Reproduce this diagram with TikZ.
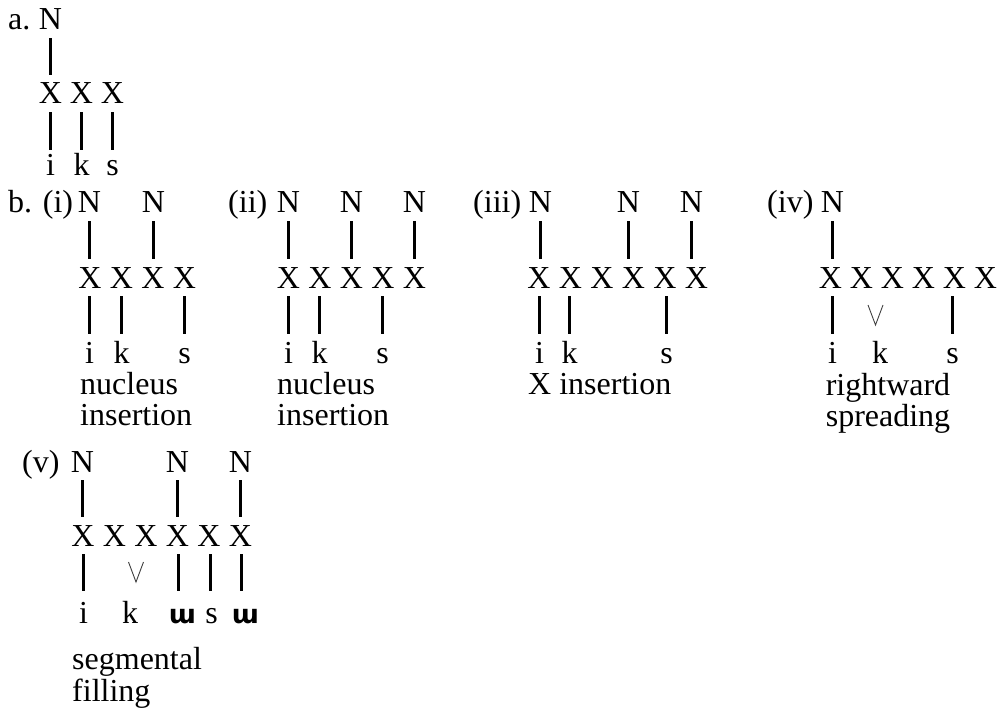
\documentclass[tikz,border=0pt]{standalone}
\usepackage{fontspec}
\setmainfont{Liberation Serif}
\newfontfamily\ipafont{DejaVu Sans}
\newcommand{\ipaw}{{\ipafont\bfseries\fontsize{26pt}{26pt}\selectfont ɯ}}
\begin{document}
\begin{tikzpicture}[x=1pt,y=-1pt,
  every node/.style={font=\fontsize{32pt}{32pt}\selectfont, inner sep=0pt},
  lab/.style={anchor=base, text height=21pt, text depth=0pt},
  txt/.style={anchor=base west},
  bar/.style={line width=3pt},
  upbar/.style={bar, shorten <=8pt, shorten >=8pt},
  lowbar/.style={bar, shorten <=8pt, shorten >=#1},
  spreadline/.style={line width=0.9pt, black!75, line join=miter}]
\path[use as bounding box, fill=white] (0,0) rectangle (1003,711);

% ---------- a ----------
\node[txt] (a-lab) at (8,30) {a.};
\node[lab] (a-N) at (50.5,30) {N};
\node[lab] (a-X1) at (50.5,104) {X};
\node[lab] (a-X2) at (81.5,104) {X};
\node[lab] (a-X3) at (112.5,104) {X};
\node[lab] (a-i) at (50.5,176) {i};
\node[lab] (a-k) at (81.5,176) {k};
\node[lab] (a-s) at (112.5,176) {s};
\draw[upbar] (a-N.south) -- (a-N.south |- a-X1.north);
\draw[lowbar=5pt] (a-i.north |- a-X1.south) -- (a-i.north);
\draw[lowbar=5pt] (a-k.north |- a-X2.south) -- (a-k.north);
\draw[lowbar=5pt] (a-s.north |- a-X3.south) -- (a-s.north);

% ---------- b (i) ----------
\node[txt] (bi-lab) at (8,213) {b. (i)};
\node[lab] (bi-N1) at (89.5,213) {N};
\node[lab] (bi-N2) at (153.5,213) {N};
\node[lab] (bi-X1) at (90,288) {X};
\node[lab] (bi-X2) at (121.5,288) {X};
\node[lab] (bi-X3) at (153,288) {X};
\node[lab] (bi-X4) at (184.5,288) {X};
\node[lab] (bi-i) at (89.5,363) {i};
\node[lab] (bi-k) at (121.5,363) {k};
\node[lab] (bi-s) at (184.5,363) {s};
\draw[upbar] (bi-N1.south) -- (bi-N1.south |- bi-X1.north);
\draw[upbar] (bi-N2.south) -- (bi-N2.south |- bi-X3.north);
\draw[lowbar=8pt] (bi-i.north |- bi-X1.south) -- (bi-i.north);
\draw[lowbar=8pt] (bi-k.north |- bi-X2.south) -- (bi-k.north);
\draw[lowbar=8pt] (bi-s.north |- bi-X4.south) -- (bi-s.north);
\node[txt] (bi-t1) at (80,394) {nucleus};
\node[txt] (bi-t2) at (80,425) {insertion};

% ---------- b (ii) ----------
\node[txt] (bii-lab) at (228,213) {(ii)};
\node[lab] (bii-N1) at (288.5,213) {N};
\node[lab] (bii-N2) at (351.5,213) {N};
\node[lab] (bii-N3) at (414.5,213) {N};
\node[lab] (bii-X1) at (288.5,288) {X};
\node[lab] (bii-X2) at (320,288) {X};
\node[lab] (bii-X3) at (351.5,288) {X};
\node[lab] (bii-X4) at (383,288) {X};
\node[lab] (bii-X5) at (414.5,288) {X};
\node[lab] (bii-i) at (288.5,363) {i};
\node[lab] (bii-k) at (319.5,363) {k};
\node[lab] (bii-s) at (382.5,363) {s};
\draw[upbar] (bii-N1.south) -- (bii-N1.south |- bii-X1.north);
\draw[upbar] (bii-N2.south) -- (bii-N2.south |- bii-X3.north);
\draw[upbar] (bii-N3.south) -- (bii-N3.south |- bii-X5.north);
\draw[lowbar=8pt] (bii-i.north |- bii-X1.south) -- (bii-i.north);
\draw[lowbar=8pt] (bii-k.north |- bii-X2.south) -- (bii-k.north);
\draw[lowbar=8pt] (bii-s.north |- bii-X4.south) -- (bii-s.north);
\node[txt] (bii-t1) at (277,394) {nucleus};
\node[txt] (bii-t2) at (277,425) {insertion};

% ---------- b (iii) ----------
\node[txt] (biii-lab) at (473,213) {(iii)};
\node[lab] (biii-N1) at (540.5,213) {N};
\node[lab] (biii-N2) at (628.5,213) {N};
\node[lab] (biii-N3) at (691.5,213) {N};
\node[lab] (biii-X1) at (539,288) {X};
\node[lab] (biii-X2) at (570.5,288) {X};
\node[lab] (biii-X3) at (602,288) {X};
\node[lab] (biii-X4) at (633.5,288) {X};
\node[lab] (biii-X5) at (665,288) {X};
\node[lab] (biii-X6) at (696.5,288) {X};
\node[lab] (biii-i) at (539.5,363) {i};
\node[lab] (biii-k) at (569.5,363) {k};
\node[lab] (biii-s) at (666.5,363) {s};
\draw[upbar] (biii-N1.south) -- (biii-N1.south |- biii-X1.north);
\draw[upbar] (biii-N2.south) -- (biii-N2.south |- biii-X4.north);
\draw[upbar] (biii-N3.south) -- (biii-N3.south |- biii-X6.north);
\draw[lowbar=8pt] (biii-i.north |- biii-X1.south) -- (biii-i.north);
\draw[lowbar=8pt] (biii-k.north |- biii-X2.south) -- (biii-k.north);
\draw[lowbar=8pt] (biii-s.north |- biii-X5.south) -- (biii-s.north);
\node[txt] (biii-t1) at (528,394) {X insertion};

% ---------- b (iv) ----------
\node[txt] (biv-lab) at (767,213) {(iv)};
\node[lab] (biv-N1) at (832.5,213) {N};
\node[lab] (biv-X1) at (830.5,288) {X};
\node[lab] (biv-X2) at (861.5,288) {X};
\node[lab] (biv-X3) at (892.5,288) {X};
\node[lab] (biv-X4) at (923.5,288) {X};
\node[lab] (biv-X5) at (954.5,288) {X};
\node[lab] (biv-X6) at (985.5,288) {X};
\node[lab] (biv-i) at (832.5,363) {i};
\node[lab] (biv-k) at (880,363) {k};
\node[lab] (biv-s) at (952.5,363) {s};
\draw[upbar] (biv-N1.south) -- (biv-N1.south |- biv-X1.north);
\draw[lowbar=8pt] (biv-i.north |- biv-X1.south) -- (biv-i.north);
\draw[lowbar=8pt] (biv-s.north |- biv-X5.south) -- (biv-s.north);
\coordinate (biv-vl) at (868,305);
\coordinate (biv-vb) at (875.5,325);
\coordinate (biv-vr) at (883,305);
\draw[spreadline] (biv-vl) -- (biv-vb) -- (biv-vr);
\node[anchor=base] (biv-t1) at (888,395) {rightward};
\node[anchor=base] (biv-t2) at (888,426) {spreading};

% ---------- b (v) ----------
\node[txt] (bv-lab) at (22,472) {(v)};
\node[lab] (bv-N1) at (82.5,472) {N};
\node[lab] (bv-N2) at (177.5,472) {N};
\node[lab] (bv-N3) at (240.5,472) {N};
\node[lab] (bv-X1) at (83,546) {X};
\node[lab] (bv-X2) at (114.5,546) {X};
\node[lab] (bv-X3) at (146,546) {X};
\node[lab] (bv-X4) at (177.5,546) {X};
\node[lab] (bv-X5) at (209,546) {X};
\node[lab] (bv-X6) at (240.5,546) {X};
\node[lab] (bv-i) at (83.5,623) {i};
\node[lab] (bv-k) at (130,623) {k};
\node[lab] (bv-w1) at (182.5,623) {\ipaw};
\node[lab] (bv-s) at (211.5,623) {s};
\node[lab] (bv-w2) at (245.5,623) {\ipaw};
\draw[upbar] (bv-N1.south) -- (bv-N1.south |- bv-X1.north);
\draw[upbar] (bv-N2.south) -- (bv-N2.south |- bv-X4.north);
\draw[upbar] (bv-N3.south) -- (bv-N3.south |- bv-X6.north);
\draw[lowbar=11pt] (bv-i.north |- bv-X1.south) -- (bv-i.north);
\draw[lowbar=11pt] ([xshift=-4pt]bv-w1.north |- bv-X4.south) -- ([xshift=-4pt]bv-w1.north);
\draw[lowbar=11pt] ([xshift=-1pt]bv-s.north |- bv-X5.south) -- ([xshift=-1pt]bv-s.north);
\draw[lowbar=11pt] ([xshift=-4pt]bv-w2.north |- bv-X6.south) -- ([xshift=-4pt]bv-w2.north);
\coordinate (bv-vl) at (128.5,562);
\coordinate (bv-vb) at (136,582);
\coordinate (bv-vr) at (143.5,562);
\draw[spreadline] (bv-vl) -- (bv-vb) -- (bv-vr);
\node[txt] (bv-t1) at (72,669) {segmental};
\node[txt] (bv-t2) at (72,701) {filling};
\end{tikzpicture}
\end{document}
